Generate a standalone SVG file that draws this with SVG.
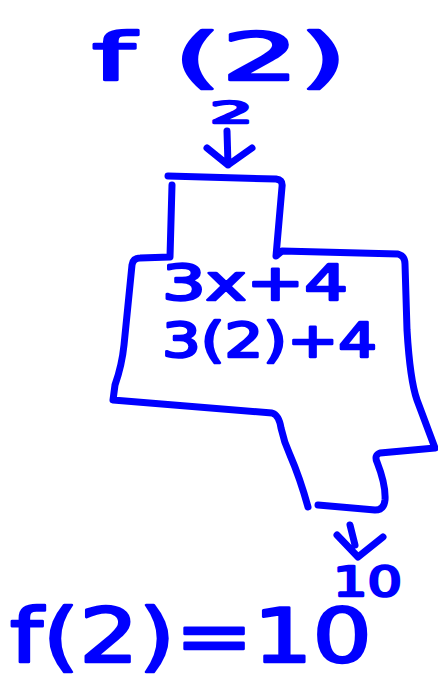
<svg xmlns="http://www.w3.org/2000/svg" width="438" height="680" viewBox="0 0 438 680">
<style>
.ink{fill:none;stroke:#0000ff;stroke-width:7;stroke-linecap:round;stroke-linejoin:round}
.t{fill:#0000ff;stroke:#0000ff;stroke-width:2.5;stroke-linejoin:round;font-family:"DejaVu Sans","Liberation Sans",sans-serif}
</style>
<rect width="438" height="680" fill="#ffffff"/>
<g id="input-label">
<text class="t" x="92" y="80" font-size="66" textLength="255" lengthAdjust="spacingAndGlyphs">f (2)</text>
<text class="t" x="210" y="123" font-size="30" textLength="43" lengthAdjust="spacingAndGlyphs">2</text>
</g>
<g id="machine">
<path class="ink" d="M168,176 L276,179 Q283,180 282,187 L276,256 L282,251 L398,254 Q405,256 405,264 L407,330 Q410,380 417,400 L435,448 L380,453 Q374,455 377,462 Q386,485 385,500 Q384,510 375,510 L318,505"/>
<path class="ink" d="M172,185 L170,257 L140,258 Q133,258 132,265 L124,345 Q122,365 115,385 L113,400 L272,413 Q279,415 281,428 Q284,442 290,455 Q300,478 308,507"/>
<text class="t" x="162" y="300" font-size="50" textLength="186" lengthAdjust="spacingAndGlyphs">3x+4</text>
<text class="t" x="162" y="357" font-size="48" textLength="215" lengthAdjust="spacingAndGlyphs">3(2)+4</text>
</g>
<g id="output-label">
<text class="t" x="333" y="596" font-size="40" textLength="69" lengthAdjust="spacingAndGlyphs">10</text>
<text class="t" x="10" y="662" font-size="74" textLength="362" lengthAdjust="spacingAndGlyphs">f(2)=10</text>
</g>
<g id="connectors">
<path class="ink" d="M227,131 L228,165 M207,148 L228,165 L252,148"/>
<path class="ink" d="M350,525 L355,545 M337,535 L358,557 L383,537"/>
</g>
</svg>
